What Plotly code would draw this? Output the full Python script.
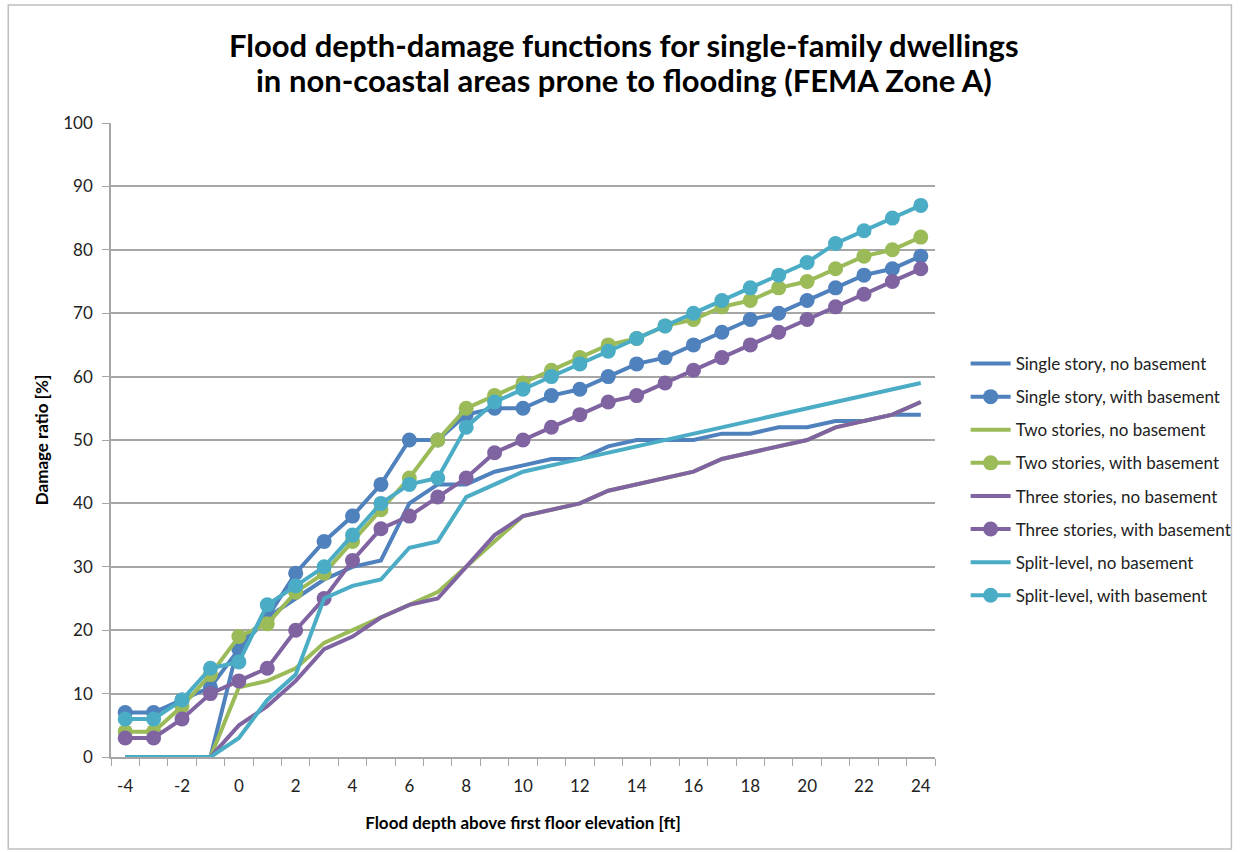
import plotly.graph_objects as go

# --- data ---
DEPTH = list(range(-4, 25))

ONE_NO_BSMT = [0, 0, 0, 0, 18, 22, 25, 28, 30, 31, 40, 43, 43, 45, 46, 47, 47, 49, 50, 50,
               50, 51, 51, 52, 52, 53, 53, 54, 54]
ONE_BSMT = [7, 7, 9, 11, 17, 22, 29, 34, 38, 43, 50, 50, 54, 55, 55, 57, 58, 60, 62, 63,
            65, 67, 69, 70, 72, 74, 76, 77, 79]
TWO_NO_BSMT = [0, 0, 0, 0, 11, 12, 14, 18, 20, 22, 24, 26, 30, 34, 38, 39, 40, 42, 43, 44,
               45, 47, 48, 49, 50, 52, 53, 54, 56]
TWO_BSMT = [4, 4, 8, 13, 19, 21, 26, 29, 34, 39, 44, 50, 55, 57, 59, 61, 63, 65, 66, 68,
            69, 71, 72, 74, 75, 77, 79, 80, 82]
THREE_NO_BSMT = [0, 0, 0, 0, 5, 8, 12, 17, 19, 22, 24, 25, 30, 35, 38, 39, 40, 42, 43, 44,
                 45, 47, 48, 49, 50, 52, 53, 54, 56]
THREE_BSMT = [3, 3, 6, 10, 12, 14, 20, 25, 31, 36, 38, 41, 44, 48, 50, 52, 54, 56, 57, 59,
              61, 63, 65, 67, 69, 71, 73, 75, 77]
SPLIT_NO_BSMT = [0, 0, 0, 0, 3, 9, 13, 25, 27, 28, 33, 34, 41, 43, 45, 46, 47, 48, 49, 50,
                 51, 52, 53, 54, 55, 56, 57, 58, 59]
SPLIT_BSMT = [6, 6, 9, 14, 15, 24, 27, 30, 35, 40, 43, 44, 52, 56, 58, 60, 62, 64, 66, 68,
              70, 72, 74, 76, 78, 81, 83, 85, 87]

X_TICKS = list(range(-4, 25, 2))
Y_TICKS = list(range(0, 101, 10))

TITLE_LINES = ['Flood depth-damage functions for single-family dwellings',
               'in non-coastal areas prone to flooding (FEMA Zone A)']

# --- style ---
BLUE = '#4F81BD'
GREEN = '#9BBB59'
PURPLE = '#8064A2'
CYAN = '#4BACC6'
FONT = 'Lato, Carlito, Calibri, sans-serif'
GRID = '#A6A6A6'
W, H = 1249, 852
L, R, T, B = 111, 304, 123, 95   # plot area 111..945 x 123..757
PW, PH = W - L - R, H - T - B

series = [
    ('Single story, no basement', ONE_NO_BSMT, BLUE, False),
    ('Single story, with basement', ONE_BSMT, BLUE, True),
    ('Two stories, no basement', TWO_NO_BSMT, GREEN, False),
    ('Two stories, with basement', TWO_BSMT, GREEN, True),
    ('Three stories, no basement', THREE_NO_BSMT, PURPLE, False),
    ('Three stories, with basement', THREE_BSMT, PURPLE, True),
    ('Split-level, no basement', SPLIT_NO_BSMT, CYAN, False),
    ('Split-level, with basement', SPLIT_BSMT, CYAN, True),
]

fig = go.Figure()
for i, (name, vals, color, dots) in enumerate(series):
    fig.add_trace(go.Scatter(
        x=DEPTH, y=vals, name=name,
        mode='lines+markers' if dots else 'lines',
        line=dict(color=color, width=4),
        marker=dict(size=15, color=color),
        legendgroup=str(i),
    ))

# two-line title as annotations so the line spacing can match
for line, ypix in zip(TITLE_LINES, [45, 80]):
    fig.add_annotation(
        text=line, showarrow=False, xref='paper', yref='paper',
        x=(630 - L) / PW, xanchor='center', y=(757 - ypix) / PH, yanchor='middle',
        font=dict(family=FONT, size=31, color='black', weight='bold'),
    )

fig.update_layout(
    width=W, height=H,
    paper_bgcolor='white', plot_bgcolor='white',
    font=dict(family=FONT, size=17, color='#222222'),
    margin=dict(l=L, r=R, t=T, b=B),
    xaxis=dict(
        range=[-4.5, 24.5], tickvals=X_TICKS, ticktext=[str(v) for v in X_TICKS],
        showgrid=False, zeroline=False, showline=True, linecolor=GRID, linewidth=1.5,
        ticks='', ticklabelstandoff=13, tickfont=dict(size=17, color='#222222'),
        minor=dict(tick0=-4.5, dtick=1, ticks='outside', ticklen=7, tickcolor=GRID,
                   showgrid=False),
        title=dict(text='Flood depth above first floor elevation [ft]', standoff=22,
                   font=dict(size=17, color='black', weight='bold')),
    ),
    yaxis=dict(
        range=[0, 100], tickvals=Y_TICKS, showgrid=True, gridcolor=GRID, gridwidth=1.5,
        zeroline=False, showline=True, linecolor=GRID, linewidth=1.5,
        ticks='outside', ticklen=7, tickcolor=GRID, ticklabelstandoff=6,
        tickfont=dict(size=17, color='#222222'),
        title=dict(text='Damage ratio [%]', standoff=10,
                   font=dict(size=17, color='black', weight='bold')),
    ),
    legend=dict(
        x=(976 - L) / PW, xanchor='left', y=(757 - 346) / PH, yanchor='top',
        font=dict(size=17, color='#222222'),
        tracegroupgap=8, itemwidth=40, bgcolor='rgba(0,0,0,0)',
    ),
    shapes=[dict(
        type='rect', xref='paper', yref='paper',
        x0=(7 - L) / PW, x1=(1245 - L) / PW,
        y0=(757 - 849) / PH, y1=(757 - 5) / PH,
        line=dict(color='#BFBFBF', width=1.5), fillcolor='rgba(0,0,0,0)', layer='below',
    )],
)

fig.write_html('out.html', config={'displayModeBar': False},
               post_script="document.body.style.margin='0px';")
